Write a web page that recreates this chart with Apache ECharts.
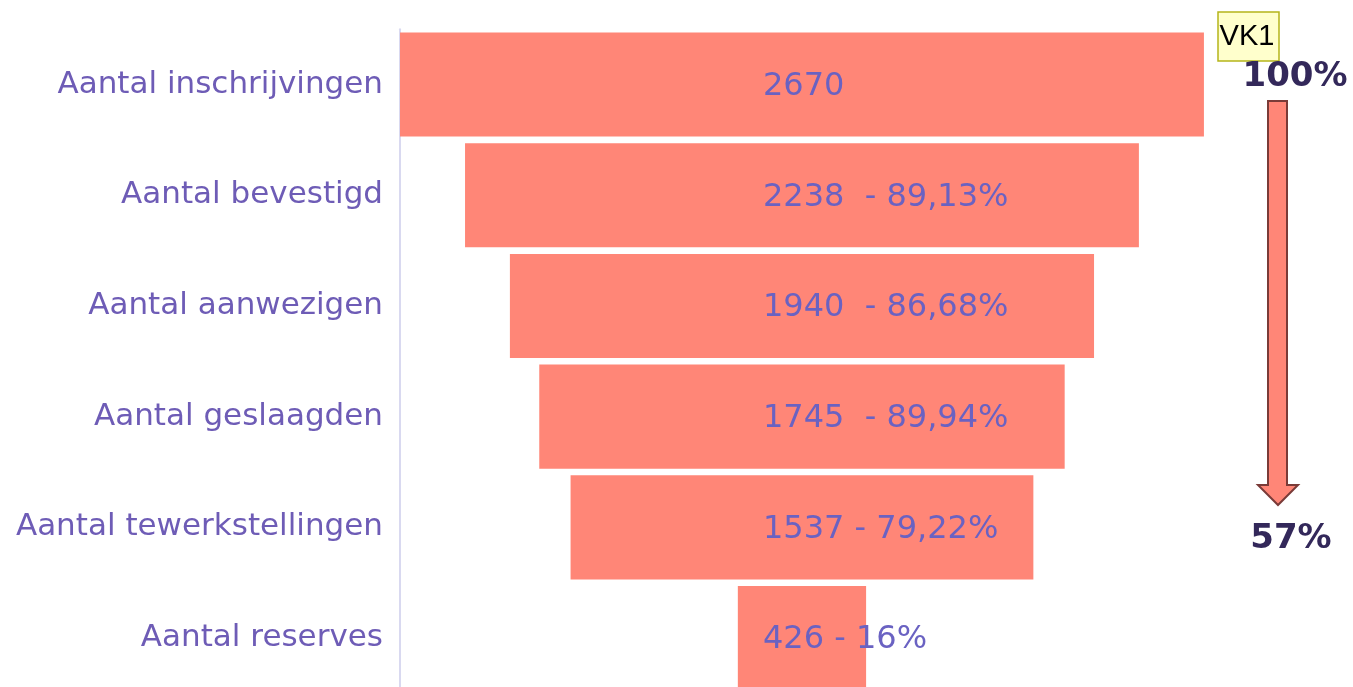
<!DOCTYPE html>
<html><head><meta charset="utf-8">
<script src="https://cdn.jsdelivr.net/npm/echarts@6/dist/echarts.min.js"></script>
<style>html,body{margin:0;padding:0;background:#fff}#c{width:1353px;height:687px}</style>
</head><body><div id="c"></div>
<script>
const categories = ['Aantal inschrijvingen','Aantal bevestigd','Aantal aanwezigen','Aantal geslaagden','Aantal tewerkstellingen','Aantal reserves'];
const values = [2670, 2238, 1940, 1745, 1537, 426];
const percents = ['', '89,13%', '86,68%', '89,94%', '79,22%', '16%'];
const separators = ['', '  - ', '  - ', '  - ', ' - ', ' - '];
const maxVal = 2670;
const offsets = values.map(v => (maxVal - v) / 2);

const FONT = '"DejaVu Sans", "Open Sans", sans-serif';
const chart = echarts.init(document.getElementById('c'));
chart.setOption({
  animation: false,
  grid: { left: 400, top: 29.2, width: 903.3, height: 664.2, containLabel: false, outerBoundsMode: 'none' },
  xAxis: { type: 'value', min: 0, max: 3000, show: false },
  yAxis: {
    type: 'category', inverse: true, data: categories,
    axisLine: { show: true, lineStyle: { color: '#d9d9f0', width: 2 } },
    axisTick: { show: false },
    axisLabel: { color: '#6e5cb6', fontSize: 31, fontFamily: FONT, margin: 17 }
  },
  series: [
    { type: 'bar', stack: 'f', data: offsets, itemStyle: { color: 'transparent' }, barCategoryGap: '6%', silent: true },
    { type: 'bar', stack: 'f', data: values, barCategoryGap: '6%',
      itemStyle: { color: '#ff8677' },
      label: {
        show: true, position: 'inside', align: 'left', offset: [-39, 2],
        color: '#6a62c2', fontSize: 32, fontFamily: FONT,
        formatter: p => p.value + separators[p.dataIndex] + percents[p.dataIndex]
      }
    }
  ],
  graphic: [
    { type: 'rect', shape: { x: 1218, y: 12, width: 61, height: 49 }, style: { fill: '#ffffcc', stroke: '#b5b51a', lineWidth: 1.5 } },
    { type: 'text', x: 1247, y: 37, style: { text: 'VK1', fill: '#000', font: '29px "Liberation Sans", Arial, sans-serif', align: 'center', verticalAlign: 'middle' } },
    { type: 'text', x: 1295, y: 77, style: { text: '100%', fill: '#33285a', font: 'bold 34px ' + FONT, align: 'center', verticalAlign: 'middle' } },
    { type: 'polygon', shape: { points: [[1268,101],[1287,101],[1287,485],[1298,485],[1278,505],[1258,485],[1268,485]] },
      style: { fill: '#ff8677', stroke: '#7a3b38', lineWidth: 2 } },
    { type: 'text', x: 1291, y: 539, style: { text: '57%', fill: '#33285a', font: 'bold 34px ' + FONT, align: 'center', verticalAlign: 'middle' } }
  ]
});
</script></body></html>
